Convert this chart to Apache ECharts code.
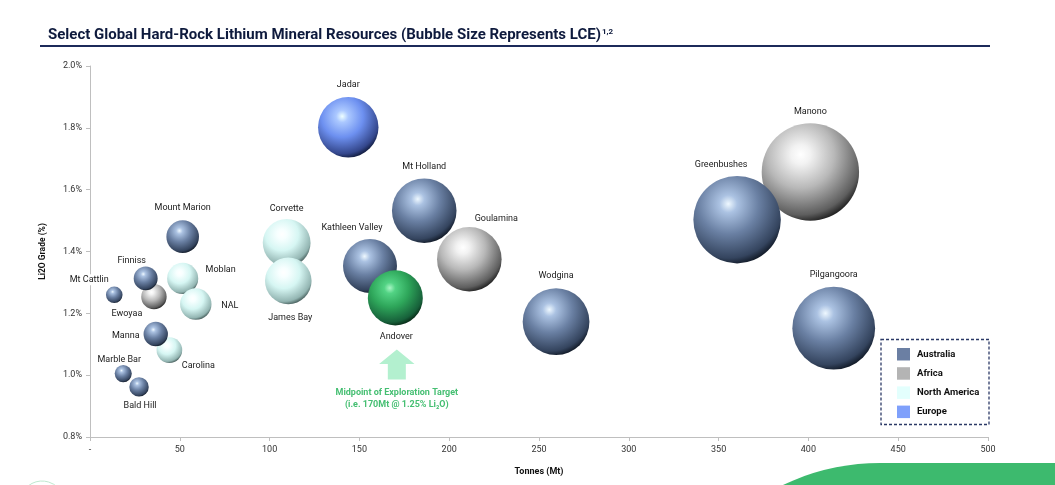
<!DOCTYPE html>
<html><head><meta charset="utf-8">
<script src="https://cdn.jsdelivr.net/npm/echarts@6/dist/echarts.min.js"></script>
<style>html,body{margin:0;padding:0;background:#fff}#c{width:1055px;height:485px}</style>
</head><body><div id="c"></div>
<script>
// ---- data ----
const names = ['Mt Cattlin','Finniss','Ewoyaa','Mount Marion','Moblan','NAL','Manna','Carolina','Marble Bar','Bald Hill','Corvette','James Bay','Jadar','Kathleen Valley','Andover','Mt Holland','Goulamina','Wodgina','Greenbushes','Manono','Pilgangoora'];
const tonnes = [13.5,31,35.6,51.6,51.6,58.9,36.6,44.2,18.5,27.3,109.5,110.4,143.8,155.9,170,186.1,211.2,259.5,360.3,401.1,414.1];
const grades = [1.26,1.313,1.254,1.448,1.313,1.23,1.133,1.081,1.005,0.962,1.428,1.305,1.802,1.353,1.25,1.532,1.375,1.173,1.503,1.657,1.152];
const lce = [0.48,1.0,1.13,1.86,1.69,1.73,1.04,1.15,0.51,0.66,4.0,3.8,6.4,5.1,5.3,7.3,7.3,7.8,13.4,16.6,12.0];
const regions = ['Australia','Australia','Africa','Australia','North America','North America','Australia','North America','Australia','Australia','North America','North America','Europe','Australia','Andover','Australia','Africa','Australia','Australia','Africa','Australia'];
const legendNames = ['Australia','Africa','North America','Europe'];
const seriesOrder = ['Africa','North America','Australia','Europe','Andover'];
const annotationLines = ['Midpoint of Exploration Target','(i.e. 170Mt @ 1.25% Li\u2082O)'];

// ---- layout / style ----
const labelOffsets = {
  'Mt Cattlin':[-25,-15],'Finniss':[-14,-18],'Ewoyaa':[-27,17],'Mount Marion':[0,-29],
  'Moblan':[38,-9],'NAL':[34,2],'Manna':[-30,2],'Carolina':[29,16],'Marble Bar':[-4,-14],
  'Bald Hill':[1,19],'Corvette':[0,-34],'James Bay':[2,37],'Jadar':[0,-42],
  'Kathleen Valley':[-18,-38],'Andover':[1,39],'Mt Holland':[0,-44],'Goulamina':[27,-40],
  'Wodgina':[0,-46],'Greenbushes':[-16,-55],'Manono':[0,-60],'Pilgangoora':[0,-53]
};
const palette = {
  'Australia':     {flat:'#6b7fa3', c:['#eef8ff','#abc2e2','#6a80a3','#34445e','#0b121d']},
  'Africa':        {flat:'#b4b4b4', c:['#ffffff','#f2f2f2','#b8b8b8','#5e5e5e','#151515']},
  'North America': {flat:'#e3fffd', c:['#ffffff','#f7ffff','#d6f6f3','#93b5b2','#3a4f4d']},
  'Europe':        {flat:'#7fa0fb', c:['#eeffff','#abc8ff','#6d90f0','#34478c','#0b1430']},
  'Andover':       {flat:'#2ea65a', c:['#a8f5c4','#52d384','#2ea65a','#17603a','#05200f']}
};
function sphere(c){
  return new echarts.graphic.RadialGradient(0.4, 0.32, 0.72, [
    {offset:0, color:c[0]},{offset:0.14, color:c[1]},{offset:0.48, color:c[2]},
    {offset:0.86, color:c[3]},{offset:1, color:c[4]}]);
}
const FONT = 'Roboto';

const series = seriesOrder.map(function(reg){
  const data = [];
  names.forEach(function(n,i){
    if (regions[i] !== reg) return;
    const item = {name:n, value:[tonnes[i], grades[i], lce[i]],
      label:{offset: labelOffsets[n]}};
    if (n === 'Mt Cattlin') item.label.backgroundColor = '#ffffff';
    data.push(item);
  });
  return {
    name: reg, type:'scatter', data: data,
    symbolSize: function(v){ return 23.9*Math.sqrt(v[2]); },
    itemStyle:{color: sphere(palette[reg].c), opacity:1},
    label:{show:true, position:'inside', formatter:'{b}', color:'#1a1a1a',
      fontFamily:FONT, fontSize:9, align:'center', verticalAlign:'middle', padding:[1,1]},
    emphasis:{disabled:true}, silent:true, animation:false
  };
});

const chart = echarts.init(document.getElementById('c'), null, {renderer:'canvas'});
chart.setOption({
  animation:false,
  title:{
    text:'{a|Select Global Hard-Rock Lithium Mineral Resources (Bubble Size Represents LCE)}{s|1,2}',
    left:43, top:23,
    textStyle:{rich:{
      a:{fontFamily:FONT, fontWeight:'bold', fontSize:15, color:'#0e1a3d'},
      s:{fontFamily:FONT, fontWeight:'bold', fontSize:8, color:'#0e1a3d', verticalAlign:'top', padding:[0,0,7,1]}
    }}
  },
  grid:{left:90, right:67, top:66, bottom:48, containLabel:false},
  legend:{
    data: legendNames.map(function(n){ return {name:n, icon:'rect', itemStyle:{color:palette[n].flat}}; }),
    orient:'vertical', left:892, top:343, itemWidth:13, itemHeight:12.5, itemGap:6.7,
    textStyle:{fontFamily:FONT, fontWeight:'bold', fontSize:9.5, color:'#111', padding:[0,0,0,2]},
    selectedMode:false
  },
  xAxis:{
    type:'value', min:0, max:500, interval:50,
    name:'Tonnes (Mt)', nameLocation:'middle', nameGap:30,
    nameTextStyle:{fontFamily:FONT, fontWeight:'bold', fontSize:9, color:'#111'},
    axisLine:{show:true, lineStyle:{color:'#bfbfbf', width:1}},
    axisTick:{show:true, length:4, lineStyle:{color:'#bfbfbf'}},
    splitLine:{show:false},
    axisLabel:{fontFamily:FONT, fontSize:9, color:'#333', margin:8,
      formatter:function(v){ return v===0 ? '-' : String(v); }}
  },
  yAxis:{
    type:'value', min:0.8, max:2.0, interval:0.2,
    name:'Li2O Grade (%)', nameLocation:'middle', nameGap:43, nameRotate:90,
    nameTextStyle:{fontFamily:FONT, fontWeight:'bold', fontSize:8.5, color:'#111'},
    axisLine:{show:true, lineStyle:{color:'#bfbfbf', width:1}},
    axisTick:{show:true, length:4, lineStyle:{color:'#bfbfbf'}},
    splitLine:{show:false},
    axisLabel:{fontFamily:FONT, fontSize:9, color:'#333', margin:8,
      formatter:function(v){ return v.toFixed(1)+'%'; }}
  },
  series: series
});

// annotation anchored to the Andover point
const ai = names.indexOf('Andover');
const p = chart.convertToPixel({gridIndex:0}, [tonnes[ai], grades[ai]]);
const ax = p[0] + 1.5, ay = p[1];
chart.setOption({
  graphic:[
    {type:'line', shape:{x1:40, y1:46, x2:990, y2:46}, style:{stroke:'#1c2a5a', lineWidth:2}, silent:true},
    {type:'rect', shape:{x:881, y:339.5, width:108, height:85}, style:{fill:'none', stroke:'#2b3966', lineWidth:1.3, lineDash:[3,2]}, silent:true},
    {type:'polygon', shape:{points:[[ax,ay+51.6],[ax+17.7,ay+66],[ax+9,ay+66],[ax+9,ay+81.6],[ax-9,ay+81.6],[ax-9,ay+66],[ax-17.7,ay+66]]},
      style:{fill:'#b3f0cf'}, silent:true},
    {type:'text', x:ax, y:ay+95.3, style:{text:annotationLines[0], fill:'#45bf72', font:'bold 9px '+FONT, align:'center', verticalAlign:'middle'}, silent:true},
    {type:'text', x:ax, y:ay+107.3, style:{text:annotationLines[1], fill:'#45bf72', font:'bold 9px '+FONT, align:'center', verticalAlign:'middle'}, silent:true},
    {type:'rect', shape:{x:655, y:463, width:600, height:600, r:[225,0,0,0]}, style:{fill:'#3dba6e'}, silent:true, z:-1},
    {type:'arc', shape:{cx:42, cy:503, r:22, startAngle:Math.PI*1.1, endAngle:Math.PI*1.9}, style:{stroke:'#bfe8cf', lineWidth:1, fill:'none'}, silent:true}
  ]
});
</script></body></html>
